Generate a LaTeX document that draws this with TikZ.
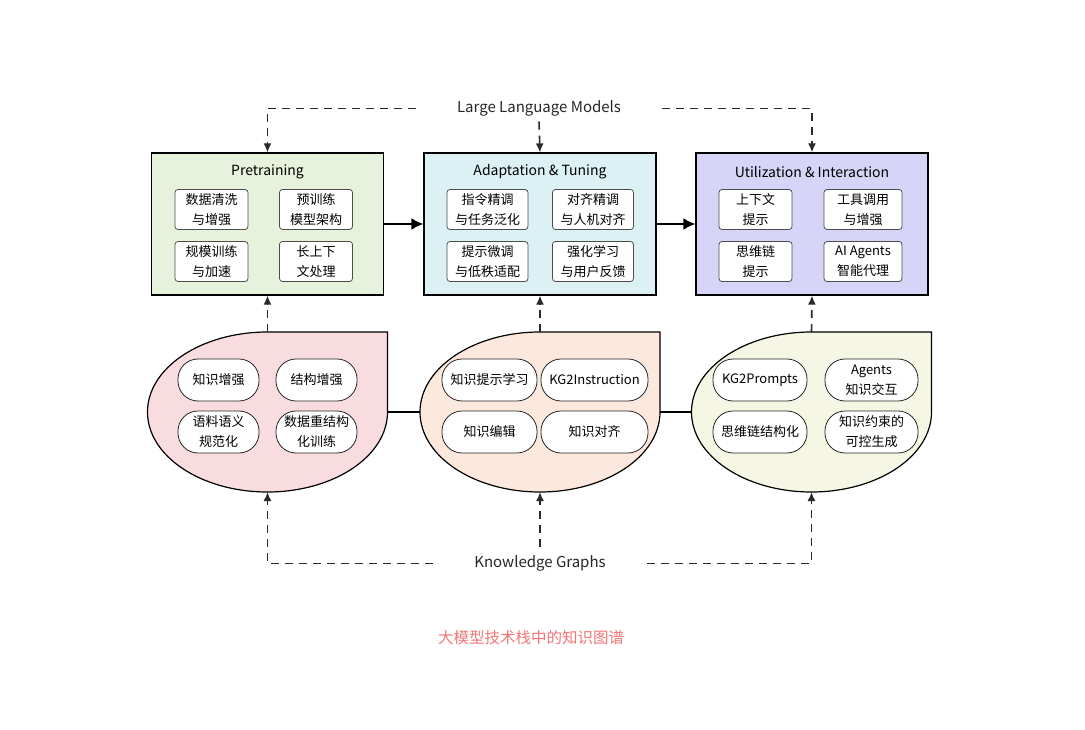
\documentclass[tikz,border=0pt]{standalone}
\usepackage{fontspec}
\setmainfont{Noto Sans CJK SC}
\usetikzlibrary{arrows.meta}
\definecolor{cgreen}{HTML}{E6F2DB}
\definecolor{ccyan}{HTML}{DCF1F3}
\definecolor{clav}{HTML}{D6D4F7}
\definecolor{cpink}{HTML}{F8DCDF}
\definecolor{cpeach}{HTML}{FCE8DC}
\definecolor{ccream}{HTML}{F5F6E3}
\definecolor{ccap}{HTML}{F07676}
\definecolor{cdash}{HTML}{2A2A2A}
\newcommand\kgblob[3]{%
  \draw[blobline, fill=#3] (#2,332) -- (#2+120,332) -- (#2+120,412)
    arc[start angle=0,end angle=270,x radius=120,y radius=80] -- cycle;
  \coordinate (#1-top) at (#2,332);
  \coordinate (#1-bot) at (#2,492);
  \coordinate (#1-l) at (#2-120,412);
  \coordinate (#1-r) at (#2+120,412);
}
\begin{document}
\begin{tikzpicture}[x=1pt,y=-1pt,
  stage/.style={draw=black, line width=1.2pt, minimum width=232pt, minimum height=142pt, inner sep=0pt},
  ttl/.style={font=\fontsize{14}{16}\selectfont, inner sep=0pt},
  sub/.style={draw=black!70, fill=white, rounded corners=3pt, line width=0.8pt, minimum height=40pt, inner sep=0pt, align=center, font=\fontsize{13}{20}\selectfont},
  pill/.style={draw=black!85, fill=white, rounded corners=20pt, line width=0.8pt, minimum height=42pt, inner sep=0pt, align=center, font=\fontsize{13}{20}\selectfont},
  blobline/.style={draw=black, line width=1.2pt},
  dashline/.style={draw=cdash, dash pattern=on 8pt off 6pt, line width=1.6pt},
  dasharrow/.style={dashline, -{Latex[length=9pt,width=8pt]}},
  flow/.style={line width=2.2pt, -{Latex[length=12pt,width=12pt]}},
  lbl/.style={font=\fontsize{15}{18}\selectfont, text=black!85},
]
\useasboundingbox (0,0) rectangle (1085,730);

% top stages
\node[stage, fill=cgreen] (pre) at (267.5,224) {};
\node[stage, fill=ccyan] (ada) at (540,224) {};
\node[stage, fill=clav] (uti) at (812,224) {};
\node[ttl] (preT) at (267.5,172) {Pretraining};
\node[ttl] (adaT) at (540,172) {Adaptation \& Tuning};
\node[ttl] (utiT) at (812,172) {Utilization \& Interaction};

\node[sub, minimum width=73pt] (p1) at (211.5,209.5) {数据清洗\\与增强};
\node[sub, minimum width=73pt] (p2) at (316,209.5) {预训练\\模型架构};
\node[sub, minimum width=73pt] (p3) at (211.5,261.5) {规模训练\\与加速};
\node[sub, minimum width=73pt] (p4) at (316,261.5) {长上下\\文处理};

\node[sub, minimum width=81pt] (a1) at (487.5,209.5) {指令精调\\与任务泛化};
\node[sub, minimum width=81pt] (a2) at (593,209.5) {对齐精调\\与人机对齐};
\node[sub, minimum width=81pt] (a3) at (487.5,261.5) {提示微调\\与低秩适配};
\node[sub, minimum width=81pt] (a4) at (593,261.5) {强化学习\\与用户反馈};

\node[sub, minimum width=73pt] (u1) at (755.5,209.5) {上下文\\提示};
\node[sub, minimum width=78pt] (u2) at (863,209.5) {工具调用\\与增强};
\node[sub, minimum width=73pt] (u3) at (755.5,261.5) {思维链\\提示};
\node[sub, minimum width=78pt] (u4) at (863,261.5) {AI Agents\\智能代理};

\draw[flow] (pre.east) -- (ada.west);
\draw[flow] (ada.east) -- (uti.west);

% blobs
\kgblob{b1}{267.5}{cpink}
\kgblob{b2}{540}{cpeach}
\kgblob{b3}{811.5}{ccream}
\draw[line width=1.2pt] (b1-r) -- (b2-l);
\draw[line width=1.2pt] (b2-r) -- (b3-l);

\node[pill, minimum width=81pt] (k1) at (218.5,380) {知识增强};
\node[pill, minimum width=81pt] (k2) at (316.5,380) {结构增强};
\node[pill, minimum width=81pt] (k3) at (218.5,432) {语料语义\\规范化};
\node[pill, minimum width=81pt] (k4) at (316.5,432) {数据重结构\\化训练};

\node[pill, minimum width=95pt] (m1) at (489.5,380) {知识提示学习};
\node[pill, minimum width=107pt] (m2) at (594.5,380) {KG2Instruction};
\node[pill, minimum width=95pt] (m3) at (489.5,432) {知识编辑};
\node[pill, minimum width=107pt] (m4) at (594.5,432) {知识对齐};

\node[pill, minimum width=94pt] (n1) at (760,380) {KG2Prompts};
\node[pill, minimum width=93pt] (n2) at (871.5,380) {Agents\\知识交互};
\node[pill, minimum width=94pt] (n3) at (760,432) {思维链结构化};
\node[pill, minimum width=93pt] (n4) at (871.5,432) {知识约束的\\可控生成};

% blob -> stage
\draw[dasharrow] (b1-top) -- (pre.south);
\draw[dasharrow] (b2-top) -- (ada.south);
\draw[dasharrow] (b3-top) -- (uti.south);

% LLM label
\node[lbl, inner xsep=41pt, inner ysep=5pt] (llm) at (539,108.5) {Large Language Models};
\draw[dasharrow] (llm.west) -| (pre.north);
\draw[dasharrow] (llm.east) -| (uti.north);
\draw[dasharrow] (llm.south) -- (ada.north);

% KG label
\node[lbl, inner xsep=41pt, inner ysep=8pt] (kg) at (540,563.5) {Knowledge Graphs};
\draw[dasharrow] (kg.west) -| (b1-bot);
\draw[dasharrow] (kg.east) -| (b3-bot);
\draw[dasharrow] (kg.north) -- (b2-bot);

% caption
\node[font=\fontsize{15.5}{18}\selectfont, text=ccap] (cap) at (531,638) {大模型技术栈中的知识图谱};
\end{tikzpicture}
\end{document}
